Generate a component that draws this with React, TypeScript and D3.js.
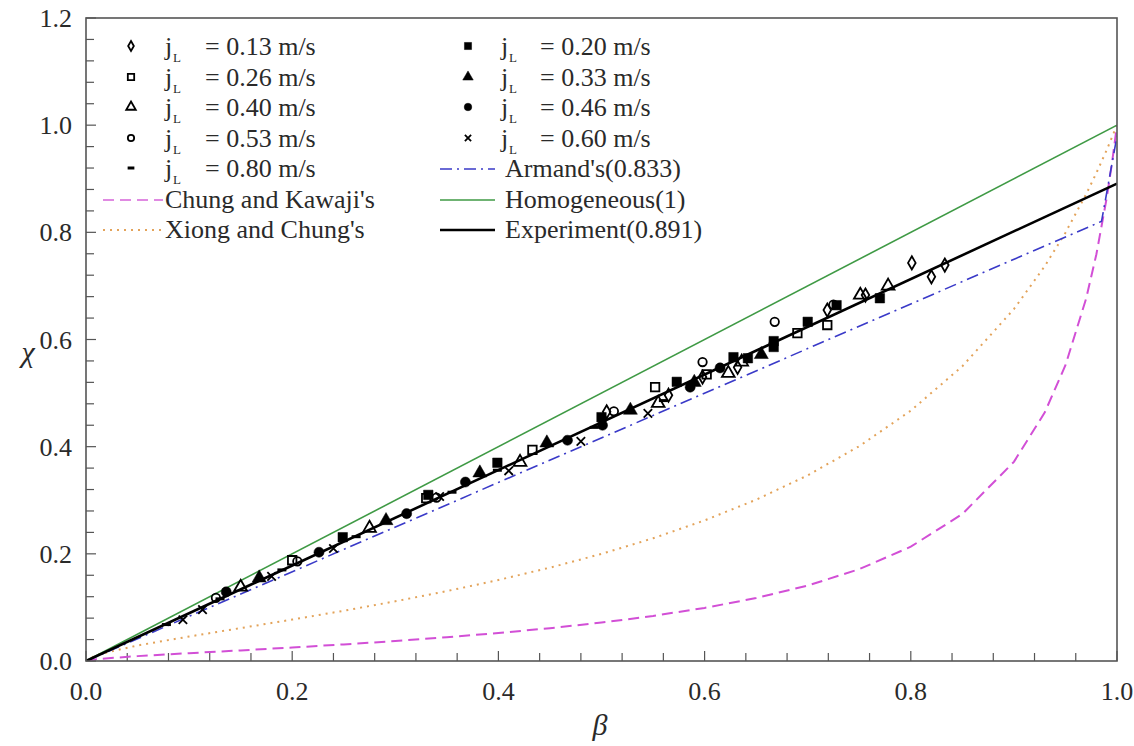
import React from 'react';
import * as d3 from 'd3';

// ---------- data ----------
const xTicks = [0, 0.2, 0.4, 0.6, 0.8, 1.0];
const yTicks = [0, 0.2, 0.4, 0.6, 0.8, 1.0, 1.2];

const jLLabels = ['0.13', '0.20', '0.26', '0.33', '0.40', '0.46', '0.53', '0.60', '0.80'];

const s013: [number, number][] = [[0.505,0.465],[0.565,0.496],[0.598,0.530],[0.632,0.548],[0.719,0.655],[0.756,0.683],[0.801,0.743],[0.820,0.717],[0.833,0.739]];
const s020: [number, number][] = [[0.249,0.231],[0.332,0.310],[0.399,0.370],[0.500,0.455],[0.573,0.521],[0.628,0.567],[0.642,0.565],[0.667,0.597],[0.667,0.586],[0.700,0.633],[0.728,0.664],[0.770,0.677]];
const s026: [number, number][] = [[0.200,0.188],[0.330,0.304],[0.433,0.394],[0.552,0.511],[0.602,0.535],[0.690,0.612],[0.719,0.627]];
const s033: [number, number][] = [[0.168,0.155],[0.291,0.262],[0.382,0.351],[0.447,0.407],[0.528,0.468],[0.590,0.520],[0.655,0.572]];
const s040: [number, number][] = [[0.150,0.138],[0.275,0.248],[0.421,0.371],[0.555,0.481],[0.623,0.537],[0.636,0.558],[0.751,0.683],[0.778,0.700]];
const s046: [number, number][] = [[0.136,0.129],[0.226,0.203],[0.311,0.275],[0.368,0.334],[0.467,0.412],[0.501,0.440],[0.586,0.511],[0.615,0.547]];
const s053: [number, number][] = [[0.126,0.118],[0.205,0.186],[0.340,0.305],[0.512,0.466],[0.598,0.558],[0.668,0.633],[0.725,0.665]];
const s060: [number, number][] = [[0.094,0.077],[0.113,0.096],[0.180,0.158],[0.240,0.210],[0.343,0.307],[0.410,0.355],[0.480,0.410],[0.545,0.462]];
const s080: [number, number][] = [[0.078,0.068],[0.130,0.116],[0.190,0.170],[0.262,0.232],[0.355,0.315],[0.399,0.356],[0.493,0.436],[0.560,0.486]];

const curveBeta = [0, 0.01, 0.05, 0.1, 0.15, 0.2, 0.25, 0.3, 0.35, 0.4, 0.45, 0.5, 0.55, 0.6, 0.65, 0.7, 0.75, 0.8, 0.85, 0.9, 0.93, 0.95, 0.97, 0.98, 0.99, 0.995, 1.0];
const chungKawaji = [0, 0.0035, 0.0091, 0.0146, 0.0198, 0.0252, 0.0310, 0.0373, 0.0443, 0.0522, 0.0612, 0.0717, 0.0841, 0.0991, 0.1175, 0.1408, 0.1714, 0.2133, 0.2743, 0.3717, 0.4641, 0.5519, 0.6759, 0.7591, 0.8640, 0.9274, 1.0];
const xiongChung = [0, 0.0114, 0.0290, 0.0457, 0.0614, 0.0773, 0.0938, 0.1114, 0.1304, 0.1512, 0.1742, 0.1999, 0.2290, 0.2624, 0.3010, 0.3465, 0.4009, 0.4672, 0.5501, 0.6567, 0.7370, 0.7994, 0.8709, 0.9107, 0.9536, 0.9770, 1.0];
const armand: [number, number][] = [[0, 0], [0.985, 0.8205], [1.0, 0.98]];
const homogeneous: [number, number][] = [[0, 0], [1, 1]];
const experiment: [number, number][] = [[0, 0], [1, 0.891]];

// ---------- layout ----------
const W = 1134, H = 746;
const X0 = 86, X1 = 1117, Y0 = 661, Y1 = 18;
const FONT = "'Liberation Serif', 'DejaVu Serif', serif";
const TXT = '#2a2a2a';
const tStyle: React.CSSProperties = { fontFamily: FONT, fontSize: '26px' };

type Kind = 'diamondO' | 'squareF' | 'squareO' | 'triF' | 'triO' | 'circF' | 'circO' | 'cross' | 'dash';
const seriesDefs: { label: string; data: [number, number][]; kind: Kind }[] = [
  { label: jLLabels[0], data: s013, kind: 'diamondO' },
  { label: jLLabels[1], data: s020, kind: 'squareF' },
  { label: jLLabels[2], data: s026, kind: 'squareO' },
  { label: jLLabels[3], data: s033, kind: 'triF' },
  { label: jLLabels[4], data: s040, kind: 'triO' },
  { label: jLLabels[5], data: s046, kind: 'circF' },
  { label: jLLabels[6], data: s053, kind: 'circO' },
  { label: jLLabels[7], data: s060, kind: 'cross' },
  { label: jLLabels[8], data: s080, kind: 'dash' },
];

function Marker({ kind, x, y, s }: { kind: Kind; x: number; y: number; s: number }) {
  const k = s;
  const common = { stroke: '#000', strokeWidth: 1.8 };
  const sym = (t: any, area: number) => d3.symbol().type(t).size(area)() as string;
  const tr = `translate(${x},${y})`;
  switch (kind) {
    case 'diamondO':
      return <path transform={tr} d={sym(d3.symbolDiamond, 50 * k * k)} fill="none" {...common} />;
    case 'squareF':
      return <path transform={tr} d={sym(d3.symbolSquare, 90 * k * k)} fill="#000" stroke="#000" strokeWidth={0.5} />;
    case 'squareO':
      return <path transform={tr} d={sym(d3.symbolSquare, 72 * k * k)} fill="none" {...common} />;
    case 'triF':
      return <path transform={tr} d={sym(d3.symbolTriangle, 85 * k * k)} fill="#000" stroke="#000" strokeWidth={0.5} />;
    case 'triO':
      return <path transform={tr} d={sym(d3.symbolTriangle, 70 * k * k)} fill="none" {...common} />;
    case 'circF':
      return <path transform={tr} d={sym(d3.symbolCircle, 80 * k * k)} fill="#000" stroke="#000" strokeWidth={0.5} />;
    case 'circO':
      return <path transform={tr} d={sym(d3.symbolCircle, 56 * k * k)} fill="none" {...common} />;
    case 'cross':
      return <path transform={tr} d={sym(d3.symbolX, 48 * k * k)} fill="none" {...common} />;
    case 'dash':
      return <line x1={x - 4.5 * k} x2={x + 4.5 * k} y1={y} y2={y} stroke="#000" strokeWidth={3} />;
  }
  return null;
}

export default function App() {
  const x = d3.scaleLinear().domain([0, 1]).range([X0, X1]);
  const y = d3.scaleLinear().domain([0, 1.2]).range([Y0, Y1]);
  const line = d3.line<[number, number]>().x(d => x(d[0])).y(d => y(d[1]));

  const ckPts: [number, number][] = curveBeta.map((b, i) => [b, chungKawaji[i]]);
  const xcPts: [number, number][] = curveBeta.map((b, i) => [b, xiongChung[i]]);

  const minorX = d3.range(0, 1.0001, 0.04);
  const minorY = d3.range(0, 1.2001, 0.04);

  const rowBase = [55, 86, 116, 147, 177, 208, 238];
  const col1 = seriesDefs.filter((_, i) => i % 2 === 0);
  const col2 = seriesDefs.filter((_, i) => i % 2 === 1);

  const jLabel = (xj: number, xeq: number, base: number, val: string, key: string) => (
    <text key={key} y={base} style={tStyle} fill={TXT}>
      <tspan x={xj}>j</tspan>
      <tspan x={xj + 8} dy={7} style={{ fontSize: '13px' }}>L</tspan>
      <tspan x={xeq} dy={-7}>{`= ${val} m/s`}</tspan>
    </text>
  );

  return (
    <svg width={W} height={H} style={{ position: 'absolute', left: 0, top: 0, background: '#fff' }}>
      <rect width={W} height={H} fill="#fff" />
      <defs>
        <clipPath id="plotClip">
          <rect x={X0} y={Y1} width={X1 - X0} height={Y0 - Y1} />
        </clipPath>
      </defs>

      {minorX.map((v, i) => (
        <line key={'tx' + i} x1={x(v)} x2={x(v)} y1={Y0} y2={Y0 - (i % 5 === 0 ? 10 : 8)} stroke="#555" strokeWidth={1.2} />
      ))}
      {minorY.map((v, i) => (
        <line key={'ty' + i} x1={X0} x2={X0 + (i % 5 === 0 ? 10 : 8)} y1={y(v)} y2={y(v)} stroke="#555" strokeWidth={1.2} />
      ))}

      {xTicks.map(v => (
        <text key={'xl' + v} x={x(v)} y={700} textAnchor="middle" style={tStyle} fill={TXT}>{v.toFixed(1)}</text>
      ))}
      {yTicks.map(v => (
        <text key={'yl' + v} x={72} y={y(v) + 9} textAnchor="end" style={tStyle} fill={TXT}>{v.toFixed(1)}</text>
      ))}

      <text x={600} y={735} textAnchor="middle" style={{ fontFamily: FONT, fontSize: '30px', fontStyle: 'italic' }} fill={TXT}>β</text>
      <text x={28} y={362} textAnchor="middle" style={{ fontFamily: FONT, fontSize: '30px', fontStyle: 'italic' }} fill={TXT}>χ</text>

      <g clipPath="url(#plotClip)">
        <path d={line(xcPts) as string} fill="none" stroke="#e3a35a" strokeWidth={2} strokeDasharray="2,5" />
        <path d={line(ckPts) as string} fill="none" stroke="#d24fd6" strokeWidth={2} strokeDasharray="11,6" />
        <path d={line(homogeneous) as string} fill="none" stroke="#3f9a45" strokeWidth={1.6} />
        <path d={line(armand) as string} fill="none" stroke="#3a3ac8" strokeWidth={1.6} strokeDasharray="12,5,2,5" />
        <path d={line(experiment) as string} fill="none" stroke="#000" strokeWidth={2.6} />
        {seriesDefs.map(sd =>
          sd.data.map((p, i) => <Marker key={sd.label + i} kind={sd.kind} x={x(p[0])} y={y(p[1])} s={1} />)
        )}
      </g>

      <rect x={X0} y={Y1} width={X1 - X0} height={Y0 - Y1} fill="none" stroke="#555" strokeWidth={1.6} />

      {col1.map((sd, i) => (
        <g key={'l1' + i}>
          <Marker kind={sd.kind} x={131} y={rowBase[i] - 9} s={0.75} />
          {jLabel(165, 205, rowBase[i], sd.label, 'l1t' + i)}
        </g>
      ))}
      <line x1={103} x2={163} y1={rowBase[5] - 8} y2={rowBase[5] - 8} stroke="#e08ae2" strokeWidth={2} strokeDasharray="11,6" />
      <text x={165} y={rowBase[5]} style={tStyle} fill={TXT}>Chung and Kawaji's</text>
      <line x1={103} x2={163} y1={rowBase[6] - 8} y2={rowBase[6] - 8} stroke="#e3a35a" strokeWidth={2} strokeDasharray="2,5" />
      <text x={165} y={rowBase[6]} style={tStyle} fill={TXT}>Xiong and Chung's</text>

      {col2.map((sd, i) => (
        <g key={'l2' + i}>
          <Marker kind={sd.kind} x={468} y={rowBase[i] - 9} s={0.75} />
          {jLabel(501, 540, rowBase[i], sd.label, 'l2t' + i)}
        </g>
      ))}
      <line x1={440} x2={495} y1={rowBase[4] - 8} y2={rowBase[4] - 8} stroke="#3a3ac8" strokeWidth={1.6} strokeDasharray="12,5,2,5" />
      <text x={505} y={rowBase[4]} style={tStyle} fill={TXT}>Armand's(0.833)</text>
      <line x1={440} x2={495} y1={rowBase[5] - 8} y2={rowBase[5] - 8} stroke="#3f9a45" strokeWidth={1.6} />
      <text x={505} y={rowBase[5]} style={tStyle} fill={TXT}>Homogeneous(1)</text>
      <line x1={440} x2={495} y1={rowBase[6] - 8} y2={rowBase[6] - 8} stroke="#000" strokeWidth={2.6} />
      <text x={505} y={rowBase[6]} style={tStyle} fill={TXT}>Experiment(0.891)</text>
    </svg>
  );
}
